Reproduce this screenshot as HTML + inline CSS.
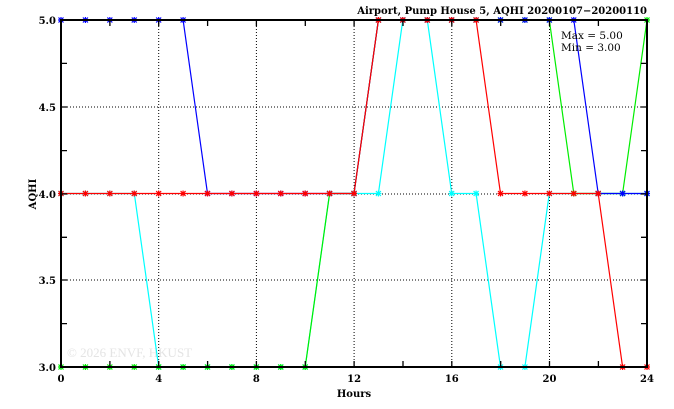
<!DOCTYPE html>
<html><head><style>
html,body{margin:0;padding:0;background:#fff;}
svg{display:block;}
text{font-family:"DejaVu Serif","Liberation Serif",serif;font-weight:bold;fill:#000;}
</style></head><body>
<svg width="674" height="409" xmlns="http://www.w3.org/2000/svg">
<defs>
<g id="m"><path d="M-2.5,-2.5L2.5,2.5M-2.5,2.5L2.5,-2.5M0,-3V3M-3,0H3" stroke-width="1.2"/></g>
</defs>
<text x="67" y="357" font-size="13" style="fill:#e4e4e4;font-weight:normal;font-family:'Liberation Serif',serif">© 2026  ENVF, HKUST</text>
<g stroke="#000" stroke-width="1" stroke-dasharray="1,2" fill="none">
<line x1="158.7" y1="20" x2="158.7" y2="367"/>
<line x1="256.4" y1="20" x2="256.4" y2="367"/>
<line x1="354.1" y1="20" x2="354.1" y2="367"/>
<line x1="451.8" y1="20" x2="451.8" y2="367"/>
<line x1="549.5" y1="20" x2="549.5" y2="367"/>
<line x1="61" y1="107" x2="647" y2="107"/>
<line x1="61" y1="194" x2="647" y2="194"/>
<line x1="61" y1="280" x2="647" y2="280"/>
</g>
<g id="series" fill="none" stroke-width="1.2"></g>
<g stroke="#000" stroke-width="1.3">
<rect x="61" y="20" width="586" height="347" fill="none" stroke-width="2"/>
<path d="M61,63.4h6M61,150.6h6M61,237.3h6M61,323.6h6M647,63.4h-6M647,150.6h-6M647,237.3h-6M647,323.6h-6M61,107h6M647,107h-6M61,280h6M647,280h-6M61,194h6M647,194h-6"/>
<path d="M109.9,367v-6M207.6,367v-6M305.3,367v-6M403,367v-6M500.7,367v-6M598.4,367v-6M109.9,20v6M207.6,20v6M305.3,20v6M403,20v6M500.7,20v6M598.4,20v6M158.7,367v-6M256.4,367v-6M354.1,367v-6M451.8,367v-6M549.5,367v-6M158.7,20v6M256.4,20v6M354.1,20v6M451.8,20v6M549.5,20v6"/>
</g>
<g font-size="10" text-anchor="end">
<text x="56" y="24">5.0</text><text x="56" y="111">4.5</text><text x="56" y="198">4.0</text><text x="56" y="284">3.5</text><text x="56" y="371">3.0</text>
</g>
<g font-size="10" text-anchor="middle">
<text x="61" y="382">0</text><text x="158.7" y="382">4</text><text x="256.4" y="382">8</text><text x="354.1" y="382">12</text><text x="451.8" y="382">16</text><text x="549.5" y="382">20</text><text x="647" y="382">24</text>
<text x="354" y="397">Hours</text>
</g>
<text x="36" y="194" font-size="10" text-anchor="middle" transform="rotate(-90 36 194)">AQHI</text>
<text x="647" y="14" font-size="10" text-anchor="end">Airport, Pump House 5, AQHI 20200107−20200110</text>
<text x="561" y="39" font-size="10.5" style="font-weight:normal">Max = 5.00</text>
<text x="561" y="51" font-size="10.5" style="font-weight:normal">Min = 3.00</text>
<script>
var S=[
["#00ffff",[4,4,4,4,3,3,3,3,3,3,3,4,4,4,5,5,4,4,3,3,4,4,4,4,4]],
["#00ee00",[3,3,3,3,3,3,3,3,3,3,3,4,4,5,5,5,5,5,5,5,5,4,4,4,5]],
["#0000ff",[5,5,5,5,5,5,4,4,4,4,4,4,4,5,5,5,5,5,5,5,5,5,4,4,4]],
["#ff0000",[4,4,4,4,4,4,4,4,4,4,4,4,4,5,5,5,5,5,4,4,4,4,4,3,3]]];
var g=document.getElementById("series"),ns="http://www.w3.org/2000/svg";
S.forEach(function(s){var d="";s[1].forEach(function(v,i){var x=61+i*24.417,y=20+(5-v)*173.5;d+=(i?"L":"M")+x.toFixed(1)+","+y.toFixed(1);
var u=document.createElementNS(ns,"use");u.setAttribute("href","#m");u.setAttribute("x",x);u.setAttribute("y",y);u.setAttribute("stroke",s[0]);g.appendChild(u);});
var p=document.createElementNS(ns,"path");p.setAttribute("d",d);p.setAttribute("stroke",s[0]);g.appendChild(p);});
</script>
</svg>
</body></html>
